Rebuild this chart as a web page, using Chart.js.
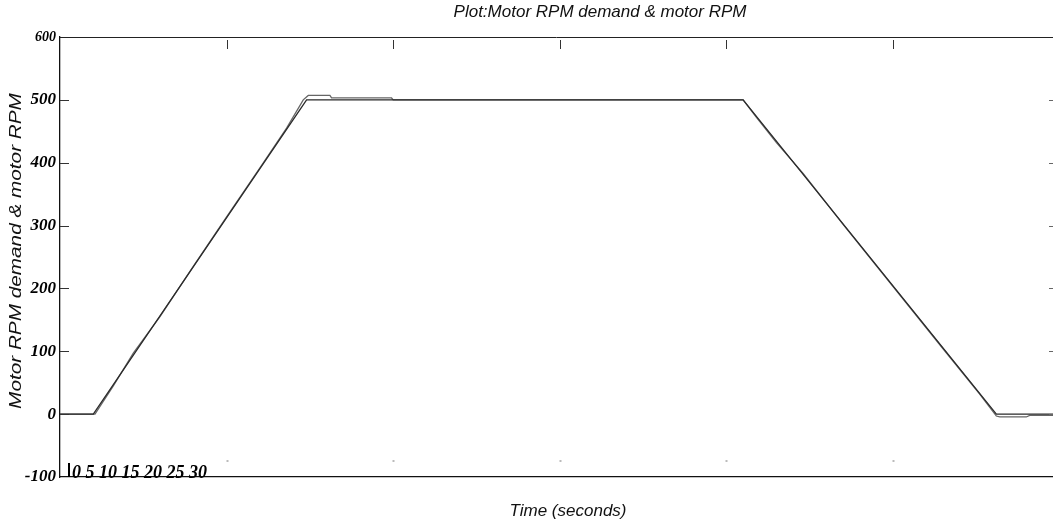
<!DOCTYPE html>
<html>
<head>
<meta charset="utf-8">
<script src="https://cdn.jsdelivr.net/npm/chart.js@4/dist/chart.umd.min.js"></script>
<style>
  html, body { margin: 0; padding: 0; background: #fff; }
  #wrap { width: 1053px; height: 523px; position: relative; }
</style>
</head>
<body>
<div id="wrap"><canvas id="c" width="1053" height="523"></canvas></div>
<script>
// Time axis (seconds) and RPM values
const demandTime = [0, 1.0, 7.4, 20.5, 28.1, 29.8];
const demandRpm  = [0, 0, 500, 500, 0, 0];

const motorTime = [0, 1.05, 1.6, 2.2, 3.0, 4.0, 5.0, 6.0, 6.8, 7.3, 7.45, 8.1, 8.15, 9.95, 10.0,
                   20.5, 20.9, 21.5, 22.3, 23.5, 25.0, 26.5, 27.6, 28.1, 28.2, 29.0, 29.1, 29.8];
const motorRpm  = [0, 0, 45, 97, 155, 235, 314, 392, 455, 500, 507, 507, 503, 503, 500,
                   500, 472, 432, 383, 302, 203, 104, 32, -3, -4.5, -4.5, -2, -2];

const yTicks = [-100, 0, 100, 200, 300, 400, 500, 600];
const xTickLabels = ['0', '5', '10', '15', '20', '25', '30'];
const xTickValues = [5, 10, 15, 20, 25];

const titleText = 'Plot:Motor RPM demand & motor RPM';
const xTitleText = 'Time (seconds)';
const yTitleText = 'Motor RPM demand & motor RPM';

const toPoints = (xs, ys) => xs.map((x, i) => ({ x: x, y: ys[i] }));

// Frame, tick marks and captions drawn on top of the chart area
const decorations = {
  id: 'decorations',
  afterDraw(chart) {
    const ctx = chart.ctx;
    const xs = chart.scales.x, ys = chart.scales.y;
    const area = chart.chartArea;
    ctx.save();

    // top frame line
    ctx.strokeStyle = '#222';
    ctx.lineWidth = 1;
    ctx.beginPath();
    ctx.moveTo(area.left, area.top + 0.5);
    ctx.lineTo(area.right, area.top + 0.5);
    ctx.stroke();

    // inner y tick marks on the left, faint ones on the right
    yTicks.forEach(v => {
      const py = Math.round(ys.getPixelForValue(v)) + 0.5;
      if (v > -100 && v < 600) {
        ctx.strokeStyle = '#333';
        ctx.beginPath();
        ctx.moveTo(area.left, py);
        ctx.lineTo(area.left + 9, py);
        ctx.stroke();
        ctx.strokeStyle = '#666';
        ctx.beginPath();
        ctx.moveTo(area.right - 4, py);
        ctx.lineTo(area.right, py);
        ctx.stroke();
      }
    });

    // x tick marks hanging from the top frame, faint dots near the bottom
    xTickValues.forEach(v => {
      const px = Math.round(xs.getPixelForValue(v)) + 0.5;
      ctx.strokeStyle = '#333';
      ctx.beginPath();
      ctx.moveTo(px, area.top + 3);
      ctx.lineTo(px, area.top + 12);
      ctx.stroke();
      ctx.fillStyle = '#bbb';
      ctx.fillRect(px - 1, area.bottom - 17, 2, 2);
    });

    // crowded x tick labels along the bottom axis
    ctx.fillStyle = '#000';
    ctx.font = 'italic bold 18px "Liberation Serif", "Times New Roman", serif';
    ctx.textAlign = 'left';
    ctx.textBaseline = 'alphabetic';
    ctx.fillText(xTickLabels.join(' '), area.left + 12, area.bottom + 1);
    ctx.fillRect(area.left + 8, area.bottom - 14, 2, 14);

    // titles
    ctx.font = 'italic 17px "Liberation Sans", Arial, sans-serif';
    ctx.textAlign = 'center';
    ctx.textBaseline = 'middle';
    ctx.fillStyle = '#111';
    ctx.fillText(titleText, 600, 12);
    ctx.fillText(xTitleText, 568, 511);

    ctx.translate(16, 251);
    ctx.rotate(-Math.PI / 2);
    ctx.scale(1.22, 1);
    ctx.fillText(yTitleText, 0, 0);
    ctx.restore();
  }
};

new Chart(document.getElementById('c'), {
  type: 'line',
  data: {
    datasets: [
      {
        label: 'Motor RPM demand',
        data: toPoints(demandTime, demandRpm),
        borderColor: '#2a2a2a',
        borderWidth: 1.3,
        pointRadius: 0,
        tension: 0
      },
      {
        label: 'Motor RPM',
        data: toPoints(motorTime, motorRpm),
        borderColor: '#666',
        borderWidth: 1.3,
        pointRadius: 0,
        tension: 0
      }
    ]
  },
  options: {
    responsive: false,
    animation: false,
    layout: { padding: { top: 37, right: 0, left: 0, bottom: 0 } },
    plugins: {
      legend: { display: false },
      title: { display: false },
      tooltip: { enabled: false }
    },
    scales: {
      x: {
        type: 'linear',
        min: 0,
        max: 29.8,
        grid: { display: false, drawTicks: false },
        border: { display: true, color: '#111', width: 1.3 },
        ticks: { display: false },
        afterFit(scale) { scale.height = 46; }
      },
      y: {
        min: -100,
        max: 600,
        afterBuildTicks(scale) { scale.ticks = yTicks.map(v => ({ value: v })); },
        grid: { display: false, drawTicks: false },
        border: { display: true, color: '#111', width: 1.3 },
        ticks: {
          color: '#000',
          padding: 4,
          font: ctx => ({
            family: '"Liberation Serif", "Times New Roman", serif',
            style: 'italic',
            weight: 'bold',
            size: ctx.tick && ctx.tick.value === 600 ? 14 : 17
          })
        },
        afterFit(scale) { scale.width = 60; }
      }
    }
  },
  plugins: [decorations]
});
</script>
</body>
</html>
